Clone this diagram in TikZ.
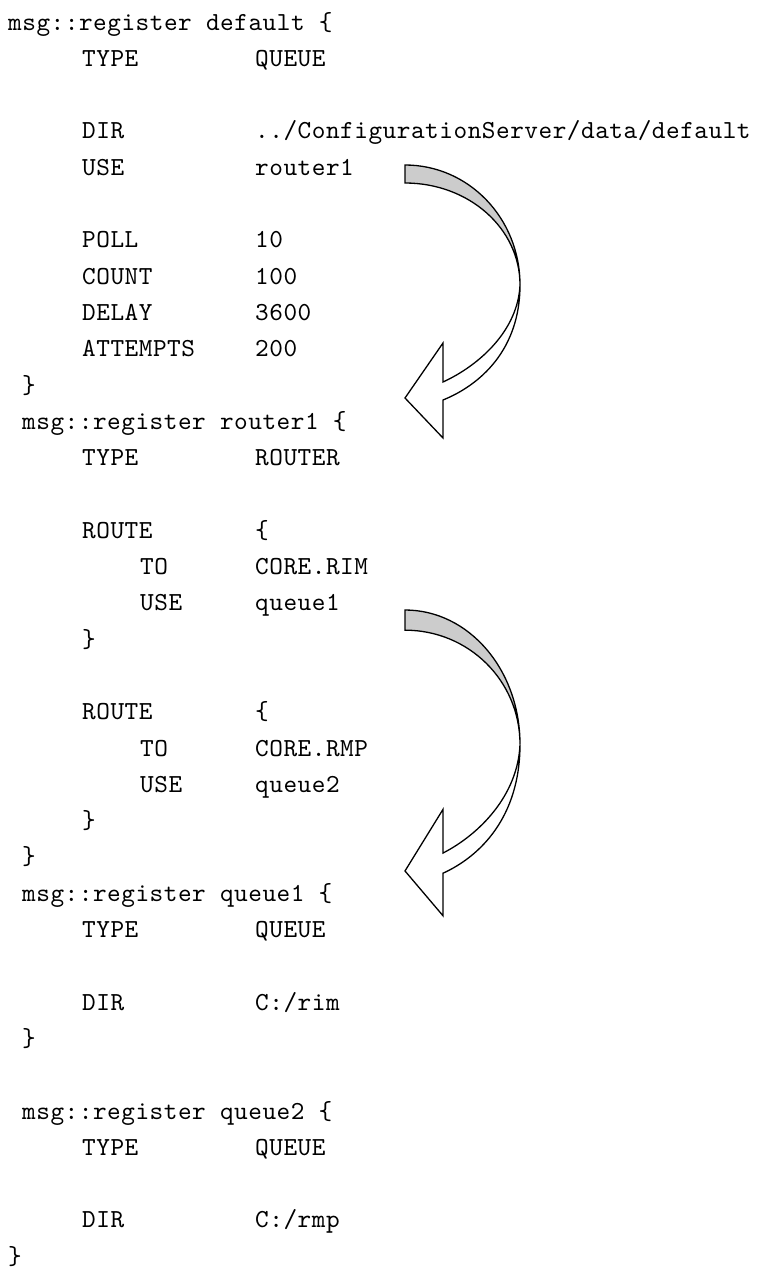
\documentclass[tikz,border=0pt]{standalone}
\usepackage{fontspec}
\setmonofont{lmmono10-regular}[Extension=.otf, LetterSpace=2]
\definecolor{ink}{HTML}{000000}
\definecolor{ribbonback}{HTML}{CCCCCC}
\tikzset{
  codeline/.style={font=\ttfamily\fontsize{26}{30}\selectfont, text=ink,
                   anchor=base west, inner sep=0pt},
  %
  ribbon/.style={draw=ink, line width=1.3pt, line join=miter},
  ribbonrear/.style={ribbon, fill=ribbonback},
  ribbonfront/.style={ribbon, fill=white},
  %
  pics/turnarrow/.style={code={
    \draw[ribbonrear] (0,0) .. controls (63.5,0) and (115,53) .. (115,120)
      .. controls (115,63) and (63.5,18) .. (0,18) -- cycle;
    \draw[ribbonfront] (115,120) .. controls (115,185) and (75,220) .. (38,235)
      -- (38,273) -- (0,233) -- (38,178) -- (38,217)
      .. controls (75,200) and (113,165) .. (115,120) -- cycle;
  }},
}

\begin{document}
\begin{tikzpicture}
\useasboundingbox (0pt,0pt) rectangle (768pt,-1277pt);

% ------------------------------------------------------------------ lines
\begin{scope}[x=1pt, y=-36.3pt, yshift=-30pt]
  \node[codeline] (regdef) at (8,0) {msg::register default \{};
  \node[codeline] (deftype) at (82,1) {TYPE};
  \node[codeline] (deftypev) at (255,1) {QUEUE};
  \node[codeline] (defdir) at (82,3) {DIR};
  \node[codeline] (defdirv) at (255,3) {../ConfigurationServer/data/default};
  \node[codeline] (defuse) at (82,4) {USE};
  \node[codeline] (defusev) at (255,4) {router1};
  \node[codeline] (defpoll) at (82,6) {POLL};
  \node[codeline] (defpollv) at (255,6) {10};
  \node[codeline] (defcount) at (82,7) {COUNT};
  \node[codeline] (defcountv) at (255,7) {100};
  \node[codeline] (defdelay) at (82,8) {DELAY};
  \node[codeline] (defdelayv) at (255,8) {3600};
  \node[codeline] (defatt) at (82,9) {ATTEMPTS};
  \node[codeline] (defattv) at (255,9) {200};
  \node[codeline] (defend) at (22,10) {\}};

  \node[codeline] (regrt) at (22,11) {msg::register router1 \{};
  \node[codeline] (rttype) at (82,12) {TYPE};
  \node[codeline] (rttypev) at (255,12) {ROUTER};
  \node[codeline] (rtroutea) at (82,14) {ROUTE};
  \node[codeline] (rtroutean) at (255,14) {\{};
  \node[codeline] (rtato) at (140,15) {TO};
  \node[codeline] (rtatov) at (255,15) {CORE.RIM};
  \node[codeline] (rtause) at (140,16) {USE};
  \node[codeline] (rtausev) at (255,16) {queue1};
  \node[codeline] (rtaend) at (82,17) {\}};
  \node[codeline] (rtrouteb) at (82,19) {ROUTE};
  \node[codeline] (rtroutebn) at (255,19) {\{};
  \node[codeline] (rtbto) at (140,20) {TO};
  \node[codeline] (rtbtov) at (255,20) {CORE.RMP};
  \node[codeline] (rtbuse) at (140,21) {USE};
  \node[codeline] (rtbusev) at (255,21) {queue2};
  \node[codeline] (rtbend) at (82,22) {\}};
  \node[codeline] (rtend) at (22,23) {\}};

  \node[codeline] (regqa) at (22,24) {msg::register queue1 \{};
  \node[codeline] (qatype) at (82,25) {TYPE};
  \node[codeline] (qatypev) at (255,25) {QUEUE};
  \node[codeline] (qadir) at (82,27) {DIR};
  \node[codeline] (qadirv) at (255,27) {C:/rim};
  \node[codeline] (qaend) at (22,28) {\}};

  \node[codeline] (regqb) at (22,30) {msg::register queue2 \{};
  \node[codeline] (qbtype) at (82,31) {TYPE};
  \node[codeline] (qbtypev) at (255,31) {QUEUE};
  \node[codeline] (qbdir) at (82,33) {DIR};
  \node[codeline] (qbdirv) at (255,33) {C:/rmp};
  \node[codeline] (qbend) at (8,34) {\}};
\end{scope}

% ----------------------------------------------------------------- arrows
\begin{scope}[x=1pt, y=-1pt]
  \pic at (405,165) {turnarrow};
  \pic[yscale=1.12] at (405,610) {turnarrow};
\end{scope}

\end{tikzpicture}
\end{document}
